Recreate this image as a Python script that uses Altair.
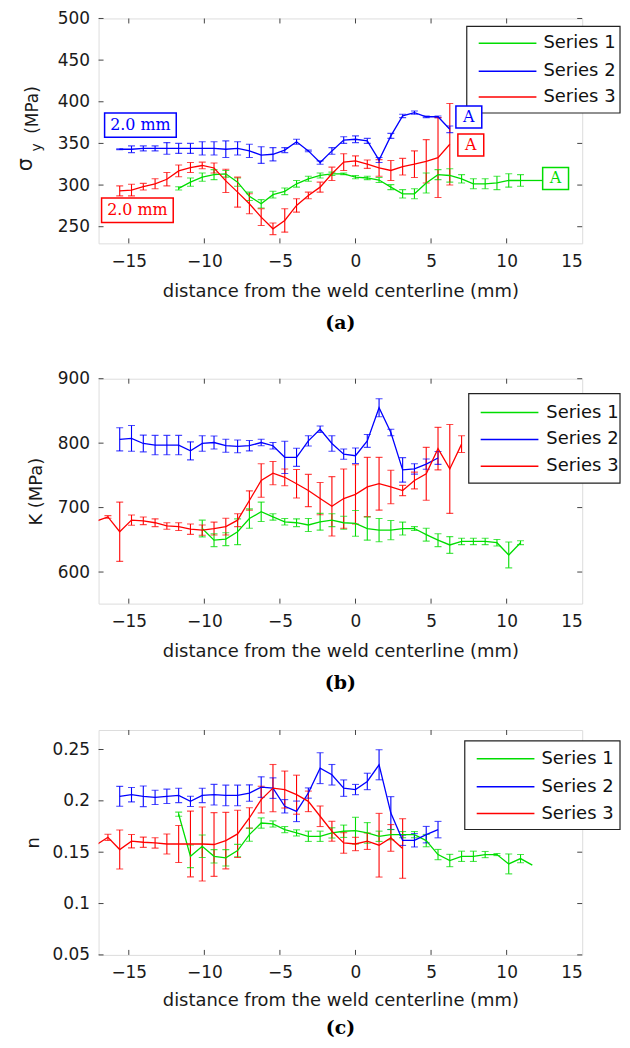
import altair as alt
import pandas as pd

SERIES = ["Series 1", "Series 2", "Series 3"]
COLORS = ["#00dd00", "#0000ff", "#ff0000"]
FONT = "DejaVu Sans"
SERIF = "DejaVu Serif"
AXC = "#444444"
W, H = 486, 226
X_TICKS = [-15, -10, -5, 0, 5, 10, 15]

# ---------------- panel (a): sigma_y (MPa) ----------------
A1_X = [-11.7, -10.92, -10.14, -9.36, -8.58, -7.8, -7.02, -6.24, -5.46, -4.68, -3.9, -3.12, -2.34, -1.56, -0.78,
        0.0, 0.78, 1.56, 2.34, 3.12, 3.9, 4.68, 5.46, 6.24, 7.02, 7.8, 8.58, 9.36, 10.14, 10.92]
A1_Y = [296, 303.5, 309.5, 312.5, 313.5, 303.5, 286.5, 277.5, 288.5, 292.5, 301.5, 307.5, 311.5, 313.5, 313.5,
        309.5, 308.5, 306, 297.5, 289.5, 289.5, 302.5, 312.5, 311.5, 307.5, 301.5, 301.5, 302.5, 305.5, 305.5]
A1_E = [2, 5, 5, 6, 4, 5, 5, 5, 4, 4, 4, 3, 3, 2, 1, 2, 2, 3, 3, 5, 6, 12, 6, 8, 5, 6, 6, 8, 8, 7]

A2_X = [-15.6, -14.82, -14.04, -13.26, -12.48, -11.7, -10.92, -10.14, -9.36, -8.58, -7.8, -7.02, -6.24, -5.46,
        -4.68, -3.9, -3.12, -2.34, -1.56, -0.78, 0.0, 0.78, 1.56, 2.34, 3.12, 3.9, 4.68, 5.46, 6.24]
A2_Y = [343, 343, 344, 344, 344, 344, 344, 344, 344, 343, 344, 341, 336, 337, 342, 352, 341, 327, 341, 354,
        355, 353, 330, 359, 383, 387, 382, 382, 367]
A2_E = [0.5, 4, 3, 3, 7, 6, 6, 8, 8, 10, 8, 8, 10, 8, 3, 3, 1, 2, 4, 4, 4, 3, 3, 3, 2, 2, 1, 1, 4]

A3_X = [-15.6, -14.82, -14.04, -13.26, -12.48, -11.7, -10.92, -10.14, -9.36, -8.58, -7.8, -7.02, -6.24, -5.46,
        -4.68, -3.9, -3.12, -2.34, -1.56, -0.78, 0.0, 0.78, 1.56, 2.34, 3.12, 3.9, 4.68, 5.46, 6.24]
A3_Y = [293, 294, 298, 301.5, 307, 317, 321, 323.5, 320.5, 305, 291.5, 277.5, 261.5, 247.5, 257.5, 275.5,
        287.5, 297.5, 313.5, 327.5, 329, 325, 320.5, 317.5, 322, 325, 328.5, 333, 349]
A3_E = [6, 7, 4, 6, 8, 7, 6, 4, 6, 14, 18, 12, 10, 7, 14, 8, 4, 6, 8, 10, 6, 5, 10, 12, 10, 16, 26, 48, 49]

ANN_TEXT = ["2.0 mm", "2.0 mm", "A", "A", "A"]
ANN_KIND = ["wide", "wide", "small", "small", "small"]
ANN_X = [-14.23, -14.43, 7.50, 7.63, 13.24]
ANN_Y = [372.0, 269.8, 381.6, 348.1, 308.0]
ANN_COLOR = ["#0000ff", "#ff0000", "#0000ff", "#ff0000", "#00dd00"]
LEAD_X = [10.92]
LEAD_X2 = [12.4]
LEAD_Y = [305.5]

# ---------------- panel (b): K (MPa) ----------------
B1_X = [-10.14, -9.36, -8.58, -7.8, -7.02, -6.24, -5.46, -4.68, -3.9, -3.12, -2.34, -1.56, -0.78, 0.0,
        0.78, 1.56, 2.34, 3.12, 3.9, 4.68, 5.46, 6.24, 7.02, 7.8, 8.58, 9.36, 10.14, 10.92]
B1_Y = [667.5, 649.5, 651, 662.5, 683, 693.5, 685.5, 678, 676.5, 673, 678, 680.5, 676.5, 675.5,
        667.5, 665, 665, 667.5, 667.5, 658, 649.5, 642, 647.5, 647.5, 647.5, 645.5, 626.5, 645.5]
B1_E = [13, 10, 10, 20, 15, 15, 5, 5, 6, 10, 13, 10, 10, 20, 18, 18, 15, 10, 3, 10, 10, 13, 5, 5, 5, 5, 20, 3]

B2_X = [-15.6, -14.82, -14.04, -13.26, -12.48, -11.7, -10.92, -10.14, -9.36, -8.58, -7.8, -7.02, -6.24, -5.46,
        -4.68, -3.9, -3.12, -2.34, -1.56, -0.78, 0.0, 0.78, 1.56, 2.34, 3.12, 3.9, 4.68, 5.46]
B2_Y = [806, 807.5, 799.5, 797, 797, 797, 788, 799.5, 801, 796, 795, 796, 801, 796, 778, 778, 803.5, 821.5,
        799.5, 783, 780.5, 803.5, 855, 816.5, 758.5, 760, 767.5, 777]
B2_E = [18, 20, 13, 15, 15, 15, 14, 12, 10, 10, 10, 8, 5, 5, 25, 14, 8, 5, 12, 8, 12, 10, 14, 5, 19, 8, 8, 10]

B3_X = [-17.16, -16.38, -15.6, -14.82, -14.04, -13.26, -12.48, -11.7, -10.92, -10.14, -9.36, -8.58, -7.8,
        -7.02, -6.24, -5.46, -4.68, -3.9, -3.12, -2.34, -1.56, -0.78, 0.0, 0.78, 1.56, 2.34, 3.12, 3.9, 4.68,
        5.46, 6.24, 7.02]
B3_Y = [679, 685.5, 662.5, 680.5, 679.5, 676.5, 671.5, 670.5, 666.5, 665, 667.5, 670.5, 680.5, 711, 742,
        753.5, 747, 737, 726.5, 714, 702, 714, 720.5, 732, 737, 732, 726.5, 742, 752.5, 791.5, 760, 798.5]
B3_E = [0, 2, 46, 8, 6, 6, 5, 6, 8, 8, 10, 13, 10, 15, 26, 18, 13, 22, 25, 25, 46, 46, 46, 46, 41, 26, 8,
        13, 41, 33, 69, 13]

# ---------------- panel (c): n ----------------
C1_X = [-11.7, -10.92, -10.14, -9.36, -8.58, -7.8, -7.02, -6.24, -5.46, -4.68, -3.9, -3.12, -2.34, -1.56, -0.78,
        0.0, 0.78, 1.56, 2.34, 3.12, 3.9, 4.68, 5.46, 6.24, 7.02, 7.8, 8.58, 9.36, 10.14, 10.92, 11.7]
C1_Y = [0.187, 0.146, 0.1558, 0.146, 0.1445, 0.1516, 0.1671, 0.1784, 0.1775, 0.172, 0.1688, 0.1655, 0.1655,
        0.1688, 0.1704, 0.171, 0.1688, 0.1655, 0.1671, 0.1671, 0.1671, 0.1613, 0.1477, 0.1419, 0.146, 0.146,
        0.1477, 0.1477, 0.1386, 0.1438, 0.1374]
C1_E = [0.002, 0.011, 0.011, 0.0065, 0.008, 0.006, 0.0065, 0.005, 0.003, 0.003, 0.003, 0.005, 0.005, 0.005,
        0.006, 0.013, 0.01, 0.005, 0.005, 0.003, 0.003, 0.006, 0.005, 0.006, 0.005, 0.005, 0.003, 0.001,
        0.0097, 0.004, 0]

C2_X = [-15.6, -14.82, -14.04, -13.26, -12.48, -11.7, -10.92, -10.14, -9.36, -8.58, -7.8, -7.02, -6.24, -5.46,
        -4.68, -3.9, -3.12, -2.34, -1.56, -0.78, 0.0, 0.78, 1.56, 2.34, 3.12, 3.9, 4.68, 5.46]
C2_Y = [0.2044, 0.206, 0.2044, 0.2034, 0.2044, 0.2053, 0.1995, 0.2053, 0.206, 0.2053, 0.2053, 0.2076, 0.2134,
        0.2124, 0.1947, 0.1898, 0.2076, 0.2318, 0.2254, 0.2124, 0.211, 0.2189, 0.2351, 0.1881, 0.1616, 0.1616,
        0.1671, 0.172]
C2_E = [0.0097, 0.007, 0.01, 0.007, 0.007, 0.007, 0.005, 0.007, 0.01, 0.01, 0.01, 0.008, 0.01, 0.01, 0.0065,
        0.01, 0.005, 0.015, 0.01, 0.008, 0.005, 0.008, 0.0146, 0.016, 0.005, 0.0065, 0.008, 0.008]

C3_X = [-17.16, -16.38, -15.6, -14.82, -14.04, -13.26, -12.48, -11.7, -10.92, -10.14, -9.36, -8.58, -7.8,
        -7.02, -6.24, -5.46, -4.68, -3.9, -3.12, -2.34, -1.56, -0.78, 0.0, 0.78, 1.56, 2.34, 3.12]
C3_Y = [0.157, 0.1645, 0.1526, 0.1607, 0.1597, 0.159, 0.158, 0.158, 0.158, 0.158, 0.1575, 0.1613, 0.1678,
        0.1833, 0.2012, 0.2124, 0.211, 0.206, 0.1995, 0.185, 0.1704, 0.159, 0.158, 0.1607, 0.1568, 0.1639,
        0.1536]
C3_E = [0, 0.003, 0.019, 0.0065, 0.005, 0.005, 0.0097, 0.018, 0.032, 0.036, 0.031, 0.0275, 0.023, 0.01,
        0.013, 0.023, 0.018, 0.019, 0.01, 0.01, 0.0097, 0.01, 0.0065, 0.008, 0.031, 0.013, 0.029]


def frame(xs, ys, es, name):
    return pd.DataFrame({
        "x": xs, "y": ys, "e": es,
        "lo": [v - e for v, e in zip(ys, es)],
        "hi": [v + e for v, e in zip(ys, es)],
        "series": name,
    })


def legend_layers(box, line_x, text_x, rows_y):
    """MATLAB-style legend box drawn in plot-pixel space."""
    x0, y0, x1, y1 = box
    one = alt.Chart(pd.DataFrame({"k": [0]}))
    out = [one.mark_rect(fill="white", stroke="#222222", strokeWidth=1.2).encode(
        x=alt.value(x0), x2=alt.value(x1), y=alt.value(y0), y2=alt.value(y1))]
    for name, col, ry in zip(SERIES, COLORS, rows_y):
        d = alt.Chart(pd.DataFrame({"t": [name]}))
        out.append(d.mark_rule(color=col, strokeWidth=1.5).encode(
            x=alt.value(line_x[0]), x2=alt.value(line_x[1]), y=alt.value(ry)))
        out.append(d.mark_text(font=FONT, fontSize=18, color="#111111", align="left", baseline="middle").encode(
            text="t:N", x=alt.value(text_x), y=alt.value(ry)))
    return out


def panel(parts, ydomain, yticks, yfmt, ytitle, leg, caption, extra=(), xtitle_pad=13, cap_off=14,
          ytitle_pad=12):
    data = pd.concat(parts, ignore_index=True)
    xs = alt.Scale(domain=[-17, 15], nice=False, zero=False)
    ys = alt.Scale(domain=ydomain, nice=False, zero=False)
    xaxis = alt.Axis(values=X_TICKS, ticks=False, domain=False, grid=False,
                     labelFont=FONT, labelFontSize=17, labelColor="#1a1a1a", labelPadding=10,
                     title="distance from the weld centerline (mm)", titleFont=FONT, titleFontSize=18,
                     titleFontWeight="normal", titleColor="#1a1a1a", titlePadding=xtitle_pad)
    yaxis_kw = dict(values=yticks, format=yfmt, ticks=False, domain=False, grid=False,
                    labelFont=FONT, labelFontSize=17, labelColor="#1a1a1a", labelPadding=9,
                    titleFont=FONT, titleFontSize=18, titleFontWeight="normal", titleColor="#1a1a1a",
                    titlePadding=ytitle_pad)
    if ytitle:
        yaxis = alt.Axis(title=ytitle, **yaxis_kw)
    else:
        yaxis = alt.Axis(title=None, **yaxis_kw)
    X = alt.X("x:Q", scale=xs, axis=xaxis)
    Y = alt.Y("y:Q", scale=ys, axis=yaxis)
    Ylo = alt.Y("lo:Q", scale=ys, axis=yaxis)
    Yhi = alt.Y("hi:Q", scale=ys, axis=yaxis)
    color = alt.Color("series:N", scale=alt.Scale(domain=SERIES, range=COLORS), legend=None)
    base = alt.Chart(data)
    bars = base.transform_filter("datum.e > 0").mark_rule(strokeWidth=1.1, clip=True).encode(
        x=X, y=Ylo, y2="hi:Q", color=color)
    cap_lo = base.transform_filter("datum.e > 0").mark_tick(
        orient="horizontal", size=7, thickness=1.1, clip=True).encode(x=X, y=Ylo, color=color)
    cap_hi = base.transform_filter("datum.e > 0").mark_tick(
        orient="horizontal", size=7, thickness=1.1, clip=True).encode(x=X, y=Yhi, color=color)
    line = base.mark_line(strokeWidth=1.3, clip=True).encode(x=X, y=Y, color=color)

    xt = alt.Chart(pd.DataFrame({"x": X_TICKS[:-1]}))
    yt = alt.Chart(pd.DataFrame({"y": yticks}))
    t1 = xt.mark_rule(color=AXC, strokeWidth=1).encode(x=X, y=alt.value(H), y2=alt.value(H - 5))
    t2 = xt.mark_rule(color=AXC, strokeWidth=1).encode(x=X, y=alt.value(0), y2=alt.value(5))
    t3 = yt.mark_rule(color=AXC, strokeWidth=1).encode(y=Y, x=alt.value(0), x2=alt.value(5))
    t4 = yt.mark_rule(color=AXC, strokeWidth=1).encode(y=Y, x=alt.value(W), x2=alt.value(W - 5))

    layers = [t1, t2, t3, t4, bars, cap_lo, cap_hi, line] + legend_layers(*leg)
    for f in extra:
        layers += f(X, Y)
    return alt.layer(*layers).properties(
        width=W, height=H,
        title=alt.TitleParams(text=caption, orient="bottom", anchor="middle", frame="group",
                              font=SERIF, fontSize=19, fontWeight="bold", color="black", offset=cap_off))


def ann_layers(X, Y):
    ann = pd.DataFrame({"x": ANN_X, "y": ANN_Y, "t": ANN_TEXT, "k": ANN_KIND, "c": ANN_COLOR})
    ab = alt.Chart(ann)
    lead = alt.Chart(pd.DataFrame({"x": LEAD_X, "x2": LEAD_X2, "y": LEAD_Y})).mark_rule(
        color=COLORS[0], strokeWidth=1.3).encode(x=X, x2="x2:Q", y=Y)
    return [
        lead,
        ab.transform_filter("datum.k == 'wide'").mark_point(
            shape="M-1,-0.34H1V0.34H-1Z", size=5184, fill="white", fillOpacity=1, opacity=1,
            strokeWidth=1.5).encode(x=X, y=Y, stroke=alt.Stroke("c:N", scale=None)),
        ab.transform_filter("datum.k == 'small'").mark_point(
            shape="M-1,-0.85H1V0.85H-1Z", size=676, fill="white", fillOpacity=1, opacity=1,
            strokeWidth=1.5).encode(x=X, y=Y, stroke=alt.Stroke("c:N", scale=None)),
        ab.mark_text(font=SERIF, fontSize=16, align="center", baseline="middle").encode(
            x=X, y=Y, text="t:N", fill=alt.Fill("c:N", scale=None)),
    ]


def sigma_title(X, Y):
    out = []
    for text, size, px, py in [("σ", 21, -73.3, 147), ("y", 14, -61.5, 129.5), ("(MPa)", 17, -66, 92)]:
        out.append(alt.Chart(pd.DataFrame({"t": [text]})).mark_text(
            angle=270, font=FONT, fontSize=size, color="#1a1a1a", align="center", baseline="middle"
        ).encode(text="t:N", x=alt.value(px), y=alt.value(py)))
    return out


pa = panel([frame(A1_X, A1_Y, A1_E, SERIES[0]), frame(A2_X, A2_Y, A2_E, SERIES[1]),
            frame(A3_X, A3_Y, A3_E, SERIES[2])],
           [230, 500], [250, 300, 350, 400, 450, 500], "d", None,
           ((370, 8, 524, 95), (382, 440), 447, (25, 53, 79)), "(a)", [ann_layers, sigma_title])
pb = panel([frame(B1_X, B1_Y, B1_E, SERIES[0]), frame(B2_X, B2_Y, B2_E, SERIES[1]),
            frame(B3_X, B3_Y, B3_E, SERIES[2])],
           [551, 900], [600, 700, 800, 900], "d", "K (MPa)",
           ((372, 15, 524, 105), (384, 442), 450, (34, 61, 88)), "(b)")
pc = panel([frame(C1_X, C1_Y, C1_E, SERIES[0]), frame(C2_X, C2_Y, C2_E, SERIES[1]),
            frame(C3_X, C3_Y, C3_E, SERIES[2])],
           [0.05, 0.269], [0.05, 0.1, 0.15, 0.2, 0.25], ".2~f", "n",
           ((368, 11, 524, 100), (380, 438), 445, (29, 57, 84)), "(c)",
           xtitle_pad=11, cap_off=9, ytitle_pad=9)

chart = alt.vconcat(pa, pb, pc, spacing=35).properties(
    padding={"left": 6, "top": -2, "right": 0, "bottom": -1}
).configure_view(stroke=AXC, strokeWidth=1.2).configure(background="white")

chart.save("out.html", embed_options={"renderer": "svg", "actions": False})
